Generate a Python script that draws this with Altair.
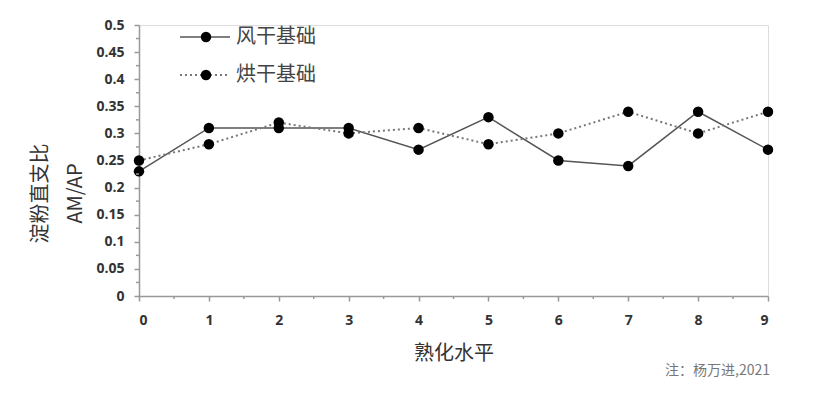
import altair as alt
import pandas as pd

levels = [0, 1, 2, 3, 4, 5, 6, 7, 8, 9]
air_dry = [0.23, 0.31, 0.31, 0.31, 0.27, 0.33, 0.25, 0.24, 0.34, 0.27]
oven_dry = [0.25, 0.28, 0.32, 0.30, 0.31, 0.28, 0.30, 0.34, 0.30, 0.34]
series_names = ["风干基础", "烘干基础"]
y_ticks = [round(i * 0.05, 2) for i in range(11)]
y_minor = [round(0.025 + i * 0.05, 3) for i in range(10)]
x_minor = [i + 0.5 for i in range(9)]
note = "注：杨万进,2021"

df = pd.DataFrame({
    "level": levels * 2,
    "value": air_dry + oven_dry,
    "series": [series_names[0]] * 10 + [series_names[1]] * 10,
})

W, H = 629, 271
FONT_CJK = "Noto Sans CJK SC"
FONT_NUM = "Open Sans"

xscale = alt.Scale(domain=[0, 9], nice=False)
yscale = alt.Scale(domain=[0, 0.5], nice=False)

x_axis = alt.Axis(values=levels, format="d", title="熟化水平", titleFont=FONT_CJK, titleFontSize=20,
                  titleFontWeight="normal", titleColor="#333", titlePadding=16,
                  labelFont=FONT_NUM, labelFontSize=14, labelFontWeight="bold", labelColor="#333",
                  labelPadding=12, tickSize=5, tickColor="#999", domainColor="#999",
                  domainWidth=1.5, tickWidth=1.5, grid=False, labelAngle=0, labelOverlap=False)
y_axis = alt.Axis(values=y_ticks, format=".2~f", title=["淀粉直支比", "AM/AP"],
                  titleFont=FONT_CJK, titleFontSize=20, titleFontWeight="normal",
                  titleColor="#333", titleAngle=-90, titleAlign="center",
                  titleBaseline="top", titleLineHeight=35, titleX=-109, titleY=168,
                  labelFont=FONT_NUM, labelFontSize=14, labelFontWeight="bold", labelColor="#333",
                  labelPadding=10, tickSize=5, tickColor="#999", domainColor="#999",
                  domainWidth=1.5, tickWidth=1.5, grid=False, labelOverlap=False)

X = alt.X("level:Q", scale=xscale, axis=x_axis)
Y = alt.Y("value:Q", scale=yscale, axis=y_axis)

base = alt.Chart(df)

line_air = base.transform_filter(alt.datum.series == series_names[0]).mark_line(
    color="#555", strokeWidth=1.5).encode(x=X, y=Y)
line_oven = base.transform_filter(alt.datum.series == series_names[1]).mark_line(
    color="#777", strokeWidth=2, strokeDash=[2, 3]).encode(x=X, y=Y)
points = base.mark_circle(color="black", size=110, opacity=1).encode(x=X, y=Y)

# minor ticks
ym = alt.Chart(pd.DataFrame({"value": y_minor})).mark_rule(color="#999", strokeWidth=1.5).encode(
    y=Y, x=alt.value(-3), x2=alt.value(0))
xm = alt.Chart(pd.DataFrame({"level": x_minor})).mark_rule(color="#999", strokeWidth=1.5).encode(
    x=X, y=alt.value(H), y2=alt.value(H + 3))

# legend
rows = [12, 50]
leg_layers = []
for name, row, col, sw, dash in zip(series_names, rows, ["#555", "#777"], [1.5, 2], [[1, 0], [2, 3]]):
    d = pd.DataFrame({"name": [name]})
    leg_layers.append(alt.Chart(d).mark_rule(color=col, strokeWidth=sw, strokeDash=dash).encode(
        x=alt.value(41), x2=alt.value(91), y=alt.value(row)))
    leg_layers.append(alt.Chart(d).mark_circle(color="black", size=110, opacity=1).encode(
        x=alt.value(67), y=alt.value(row)))
    leg_layers.append(alt.Chart(d).mark_text(align="left", baseline="middle", font=FONT_CJK,
                                             fontSize=20, color="#444").encode(
        x=alt.value(97), y=alt.value(row), text="name:N"))

note_txt = alt.Chart(pd.DataFrame({"t": [note]})).mark_text(
    align="right", baseline="middle", font=FONT_CJK, fontSize=14, color="#777").encode(
    x=alt.value(W + 2), y=alt.value(346), text="t:N")

chart = alt.layer(line_air, line_oven, points, ym, xm, *leg_layers, note_txt).properties(
    width=W, height=H,
    autosize=alt.AutoSizeParams(type="none"),
    padding={"left": 139, "top": 25, "right": 52, "bottom": 97},
).configure_view(stroke=None).configure(background="white")

chart.save("out.html", embed_options={"renderer": "svg", "actions": False})
